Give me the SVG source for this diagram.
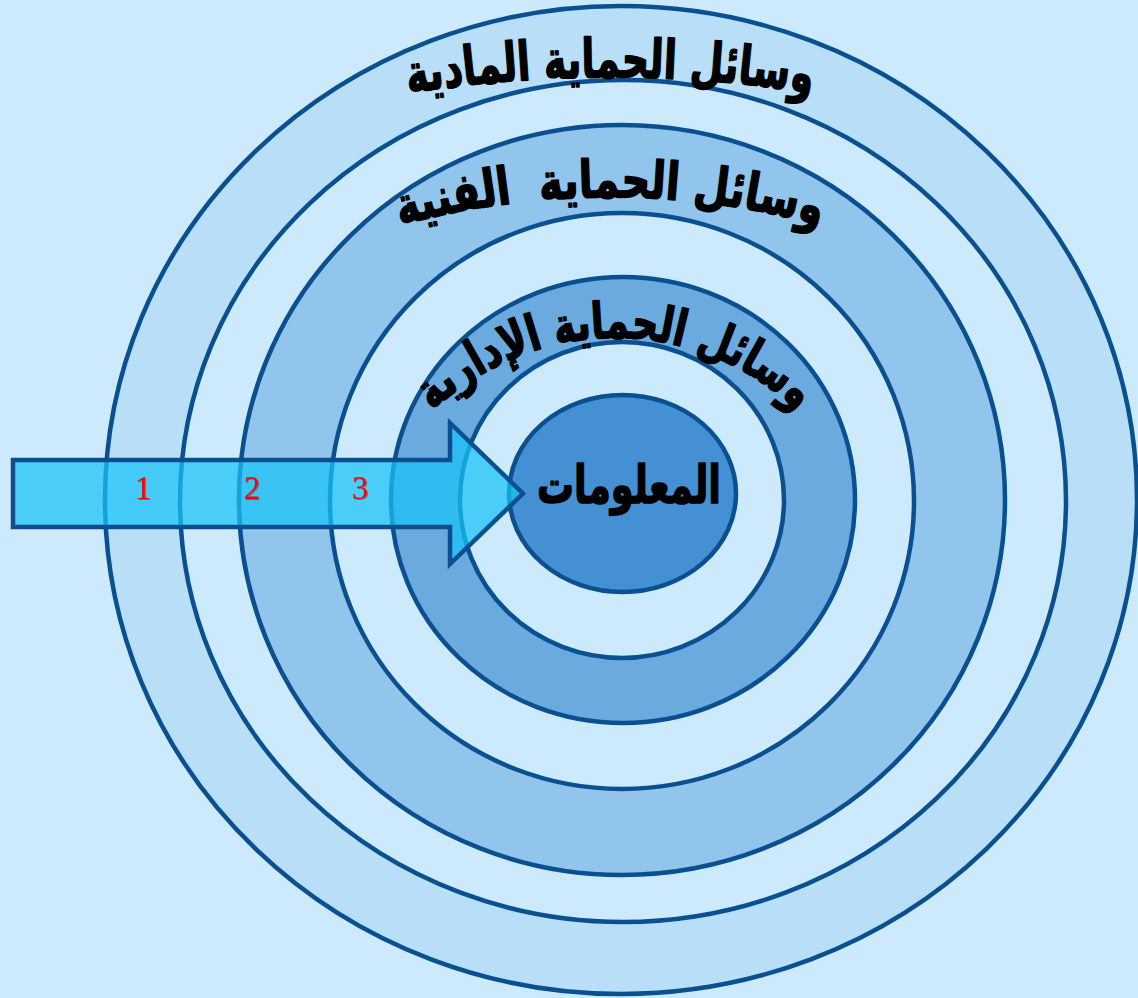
<svg xmlns="http://www.w3.org/2000/svg" width="1138" height="998" viewBox="0 0 1138 998">
<style>
.ln{stroke:#0a5091;stroke-width:4.5}
.r1{fill:#b8dff7}
.lt{fill:#cceafc}
.r2{fill:#92c5ec}
.r3{fill:#6aaadf}
.core{fill:#458fd3}
.ar{font-family:"DejaVu Sans",sans-serif;font-weight:bold;fill:#000;stroke:#000;stroke-width:1.6;stroke-linejoin:round}
.num{font-family:"Liberation Serif",serif;font-size:33px;fill:#ff0000;text-anchor:middle}
</style>
<defs>
<path id="p1" d="M 330,108 A 1300,1300 0 0 1 890,108"/>
<path id="p2" d="M 330,248 A 800,800 0 0 1 890,248"/>
<path id="p3" d="M 386.4,470 A 264,264 0 0 1 843.6,470"/>
<filter id="sh" x="-20%" y="-20%" width="140%" height="140%"><feDropShadow dx="1" dy="1" stdDeviation="0.6" flood-color="#404040" flood-opacity="0.6"/></filter>
</defs>
<rect width="1138" height="998" fill="#cceafc"/>
<g id="ring-physical">
<ellipse class="r1 ln" cx="621" cy="500" rx="516" ry="494"/>
<ellipse class="lt ln" cx="623" cy="501" rx="443" ry="421"/>
<text class="ar" font-size="54" text-anchor="middle"><textPath href="#p1" startOffset="50%" textLength="405" lengthAdjust="spacingAndGlyphs">وسائل الحماية المادية</textPath></text>
</g>
<g id="ring-technical">
<ellipse class="r2 ln" cx="622" cy="500" rx="383" ry="375"/>
<ellipse class="lt ln" cx="622" cy="501" rx="292" ry="288"/>
<text class="ar" font-size="52" text-anchor="middle" xml:space="preserve" style="white-space:pre"><textPath href="#p2" startOffset="50%" textLength="425" lengthAdjust="spacingAndGlyphs">وسائل الحماية  الفنية</textPath></text>
</g>
<g id="ring-administrative">
<ellipse class="r3 ln" cx="623" cy="500" rx="232" ry="223"/>
<ellipse class="lt ln" cx="622" cy="500" rx="162" ry="158"/>
<text class="ar" font-size="50" text-anchor="middle"><textPath href="#p3" startOffset="50%" textLength="402" lengthAdjust="spacingAndGlyphs">وسائل الحماية الإدارية</textPath></text>
</g>
<g id="information">
<ellipse class="core ln" cx="622.5" cy="493.5" rx="113.5" ry="98.5"/>
</g>
<g id="connectors">
<path d="M 13,460 L 450,460 L 450,423 L 523,493.5 L 450,564 L 450,527 L 13,527 Z" fill="#17c3f6" fill-opacity="0.72" stroke="#0a5091" stroke-width="4.5" stroke-linejoin="miter"/>
<g filter="url(#sh)">
<text class="num" x="143" y="499">1</text>
<text class="num" x="252" y="499">2</text>
<text class="num" x="360" y="499">3</text>
</g>
</g>
<g id="information-label">
<text class="ar" font-size="52" x="629" y="503" text-anchor="middle" textLength="184" lengthAdjust="spacingAndGlyphs">المعلومات</text>
</g>
</svg>
